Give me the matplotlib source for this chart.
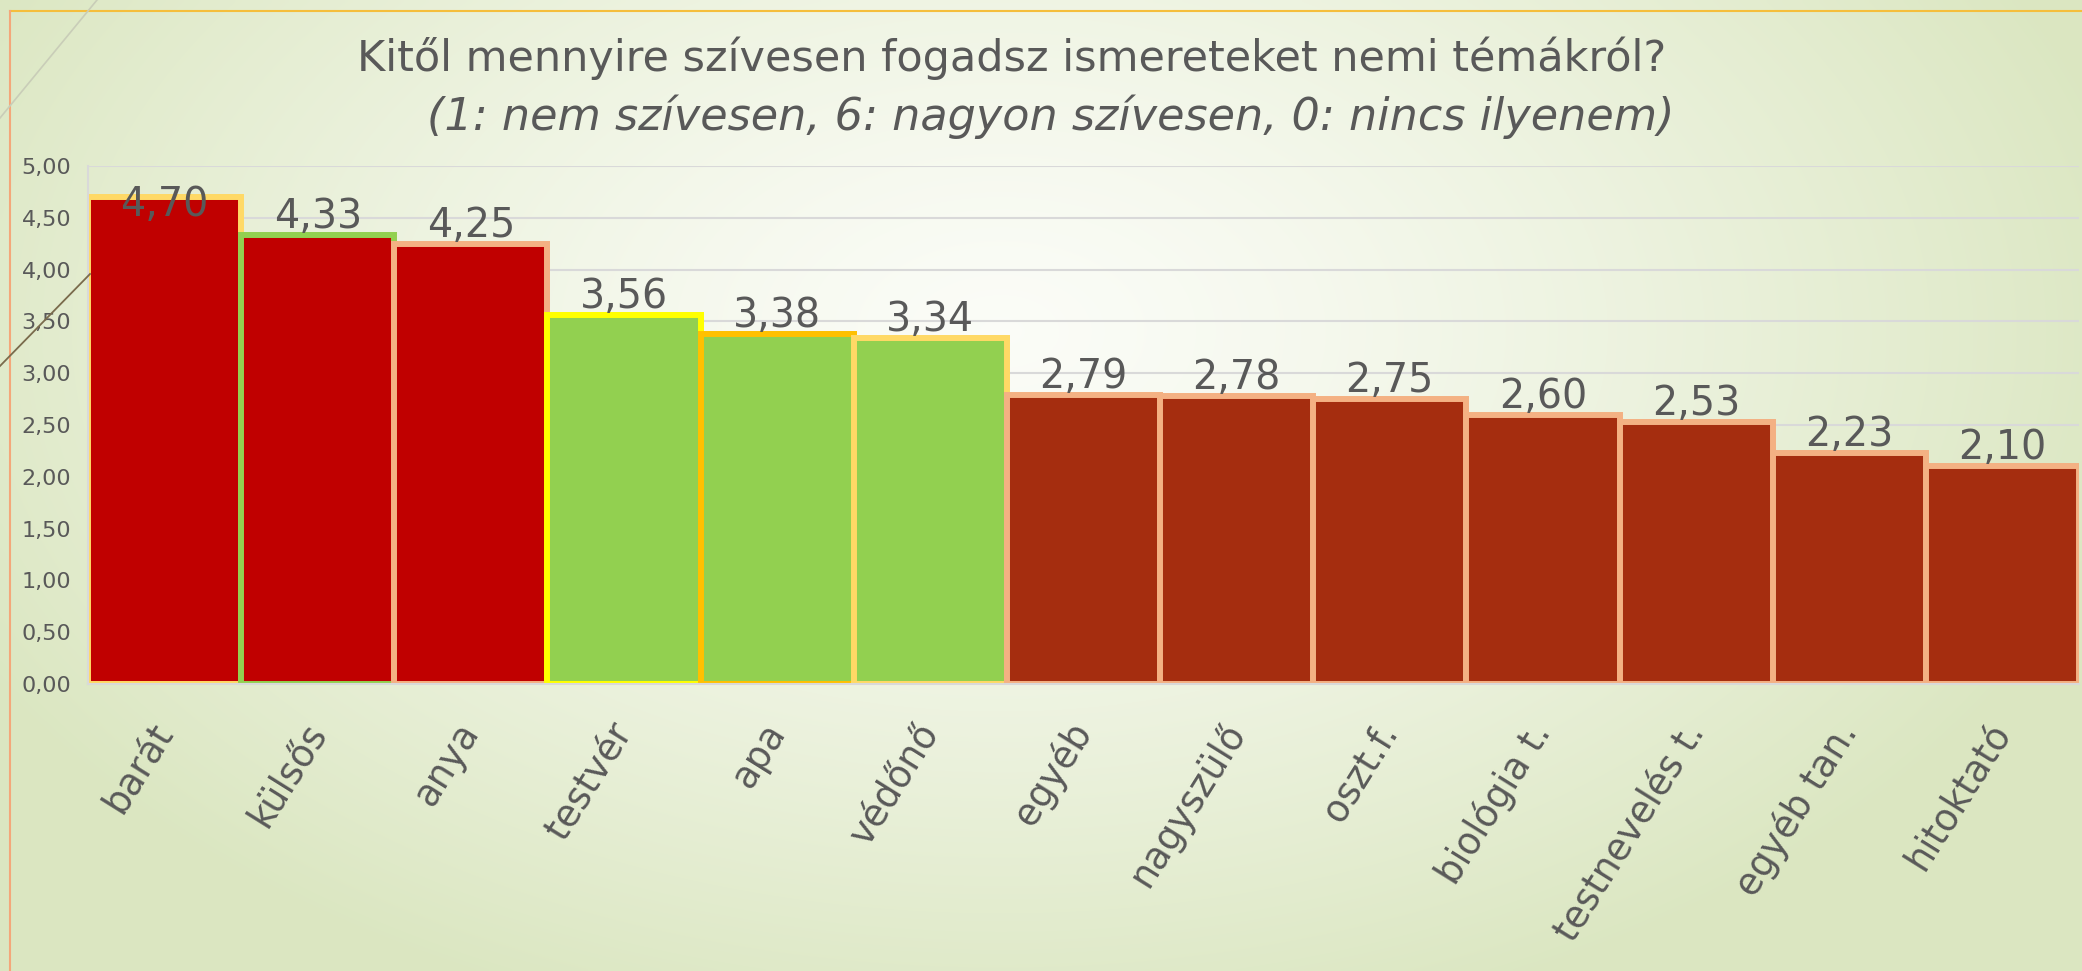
import matplotlib

matplotlib.use('Agg')
import matplotlib.pyplot as plt
from matplotlib.lines import Line2D
from matplotlib.ticker import FuncFormatter
import numpy as np

# data
categories = ['barát', 'külsős', 'anya', 'testvér', 'apa', 'védőnő', 'egyéb',
              'nagyszülő', 'oszt.f.', 'biológia t.', 'testnevelés t.', 'egyéb tan.', 'hitoktató']
values = [4.70, 4.33, 4.25, 3.56, 3.38, 3.34, 2.79, 2.78, 2.75, 2.60, 2.53, 2.23, 2.10]
fill_colors = ['#C00000', '#C00000', '#C00000', '#92D050', '#92D050', '#92D050', '#A52D0F',
               '#A52D0F', '#A52D0F', '#A52D0F', '#A52D0F', '#A52D0F', '#A52D0F']
edge_colors = ['#FFD966', '#92D050', '#F4B183', '#FFFF00', '#FFC000', '#FFD966', '#F4B183',
               '#F4B183', '#F4B183', '#F4B183', '#F4B183', '#F4B183', '#F4B183']
title1 = 'Kitől mennyire szívesen fogadsz ismereteket nemi témákról?'
title2 = '(1: nem szívesen, 6: nagyon szívesen, 0: nincs ilyenem)'

W, H = 2082, 971
txt = '#595959'
plt.rcParams['font.family'] = ['DejaVu Sans']

fig = plt.figure(figsize=(W / 100, H / 100), dpi=100)

# slide background: whitish centre fading to pale green
bg = fig.add_axes([0, 0, 1, 1], zorder=-10)
yy, xx = np.mgrid[0:H:4, 0:W:4]
d = np.sqrt(((xx - 1000) / 1150.0) ** 2 + ((yy - 330) / 720.0) ** 2)
t = np.clip(d, 0, 1) ** 1.3
c0 = np.array([0.985, 0.99, 0.97])
c1 = np.array([0.86, 0.905, 0.76])
img = c0[None, None, :] * (1 - t[..., None]) + c1[None, None, :] * t[..., None]
bg.imshow(img, extent=[0, W, H, 0], aspect='auto', interpolation='bilinear')
bg.set_xlim(0, W)
bg.set_ylim(H, 0)
bg.axis('off')


def px(x, y):
    return x / W, 1 - y / H


# theme decorations (frame and diagonal strokes)
for (x0, y0), (x1, y1), col, lw in [((10, 11), (W, 11), '#F5BE3C', 1.5),
                                    ((10, 11), (10, H), '#F4A77A', 1.5),
                                    ((97, 0), (0, 118), '#C9CDB8', 1.2),
                                    ((90, 274), (0, 366), '#7A6B4C', 1.3)]:
    a, b = px(x0, y0)
    c, e = px(x1, y1)
    fig.add_artist(Line2D([a, c], [b, e], color=col, lw=lw, transform=fig.transFigure))

left, right, top, bottom = 88, 2079, 166, 684
ax = fig.add_axes([left / W, 1 - bottom / H, (right - left) / W, (bottom - top) / H])
ax.set_facecolor('none')

x = np.arange(len(categories))
ax.bar(x, values, width=1.0, color=fill_colors, edgecolor=edge_colors, linewidth=4.3, zorder=2)

for xi, v in zip(x, values):
    ax.annotate(f'{v:.2f}'.replace('.', ','), (xi, min(v, 4.45)), xytext=(0, 5),
                textcoords='offset points', ha='center', va='baseline',
                fontsize=28.5, color=txt, zorder=3)

ax.set_xlim(-0.5, len(categories) - 0.5)
ax.set_ylim(0, 5)
ax.set_yticks(np.arange(0, 5.01, 0.5))
ax.yaxis.set_major_formatter(FuncFormatter(lambda v, p: f'{v:.2f}'.replace('.', ',')))
ax.yaxis.grid(True, color='#D9D9D9', lw=1.5)
ax.set_axisbelow(True)
for s in ['top', 'right']:
    ax.spines[s].set_visible(False)
for s in ['left', 'bottom']:
    ax.spines[s].set_color('#D9D9D9')
    ax.spines[s].set_linewidth(1.5)
ax.tick_params(axis='y', length=0, labelsize=16, labelcolor=txt, pad=12)
ax.tick_params(axis='x', length=0, labelsize=26.5, labelcolor=txt, pad=30)
ax.set_xticks(x)
ax.set_xticklabels(categories, rotation=58, ha='right', va='center', rotation_mode='anchor')

fig.text(1012 / W, 1 - 58 / H, title1, ha='center', va='center', fontsize=31, color=txt)
fig.text(1051 / W, 1 - 117 / H, title2, ha='center', va='center', fontsize=32,
         color=txt, style='italic')

plt.savefig('out.png', dpi=100)
